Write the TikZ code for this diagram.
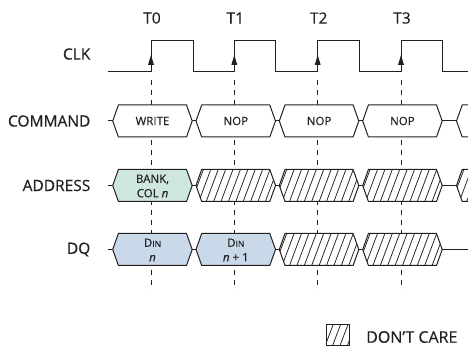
\documentclass[tikz,border=0pt]{standalone}
\usepackage{fontspec}
\setmainfont{Open Sans}[FakeBold=0.35]
\definecolor{ink}{HTML}{231F20}
\definecolor{addrfill}{HTML}{CDE6E0}
\definecolor{dqfill}{HTML}{C9D9E9}
\newcommand{\hexpath}[3]{(#1,#3) -- ({#1+5.7},{#3-16}) -- ({#2-5.7},{#3-16}) -- (#2,#3) -- ({#2-5.7},{#3+16}) -- ({#1+5.7},{#3+16}) -- cycle}
\newcommand{\hatchhex}[3]{%
  \fill[white] \hexpath{#1}{#2}{#3};
  \begin{scope}
    \clip \hexpath{#1}{#2}{#3};
    \foreach \h in {-12,-4.6,...,100} {\draw[hatchln] ({#1+\h},{#3+16}) -- ({#1+\h+12},{#3-16});}
  \end{scope}
  \draw[sig] \hexpath{#1}{#2}{#3};}
\begin{document}
\begin{tikzpicture}[x=1pt,y=-1pt,line join=miter]
\tikzset{
  sig/.style={draw=ink,line width=1pt},
  hatchln/.style={draw=ink,line width=0.75pt},
  guide/.style={draw=ink,line width=0.8pt,dash pattern=on 5pt off 5pt},
  lbl/.style={font=\fontsize{15.5}{18}\selectfont,text=ink,anchor=east,inner sep=0pt},
  tlab/.style={font=\fontsize{15.5}{18}\selectfont,text=ink,inner sep=0pt},
  ct/.style={font=\fontsize{11.5}{14.5}\selectfont,text=ink,align=center,inner sep=0pt},
  legtxt/.style={font=\fontsize{16}{18}\selectfont,text=ink,anchor=west,inner sep=0pt}
}
\useasboundingbox (0,0) rectangle (468,352);
% guide lines at rising edges
\foreach \e in {151,234.3,317.7,401} {\draw[guide] (\e,80) -- (\e,290);}
% clock
\draw[sig] (108,72) -- (151,72) -- (151,41) -- (193,41) -- (193,72)
  -- (234.3,72) -- (234.3,41) -- (275.7,41) -- (275.7,72)
  -- (317.7,72) -- (317.7,41) -- (359,41) -- (359,72)
  -- (401,72) -- (401,41) -- (442.3,41) -- (442.3,72) -- (468,72);
\foreach \e/\t in {151/T0,234.3/T1,317.7/T2,401/T3} {
  \fill[ink] (\e,55) -- ({\e-3},65) -- ({\e+3},65) -- cycle;
  \node[tlab] (lab\t) at ({\e+1},18) {\t};
}
% row labels
\node[lbl] (clk) at (90.5,54) {CLK};
\node[lbl] (cmd) at (90.5,121) {COMMAND};
\node[lbl] (addr) at (90.5,185.5) {ADDRESS};
\node[lbl] (dq) at (90.5,249.5) {DQ};
% connecting lines
\foreach \y in {121,185.5} {
  \draw[sig] (108,\y) -- (112.7,\y);
  \draw[sig] (192.2,\y) -- (196,\y);
  \draw[sig] (275.5,\y) -- (279.3,\y);
  \draw[sig] (358.8,\y) -- (362.7,\y);
  \draw[sig] (442.2,\y) -- (456.5,\y);
}
\draw[sig] (108,249.5) -- (112.7,249.5);
\draw[sig] (192.2,249.5) -- (196,249.5);
\draw[sig] (275.5,249.5) -- (279.3,249.5);
\draw[sig] (358.8,249.5) -- (362.7,249.5);
\draw[sig] (442.2,249.5) -- (468,249.5);
% COMMAND row
\draw[sig,fill=white] \hexpath{112.7}{192.2}{121};
\draw[sig,fill=white] \hexpath{196}{275.5}{121};
\draw[sig,fill=white] \hexpath{279.3}{358.8}{121};
\draw[sig,fill=white] \hexpath{362.7}{442.2}{121};
\draw[sig,fill=white] \hexpath{456.5}{560}{121};
\node[ct] (c1) at (152.5,121) {WRITE};
\node[ct] (c2) at (235.8,121) {NOP};
\node[ct] (c3) at (319.1,121) {NOP};
\node[ct] (c4) at (402.4,121) {NOP};
% ADDRESS row
\draw[sig,fill=addrfill] \hexpath{112.7}{192.2}{185.5};
\node[ct] (a1) at (152.5,186) {BANK,\\COL \textit{n}};
\hatchhex{196}{275.5}{185.5}
\hatchhex{279.3}{358.8}{185.5}
\hatchhex{362.7}{442.2}{185.5}
\hatchhex{456.5}{560}{185.5}
% DQ row
\draw[sig,fill=dqfill] \hexpath{112.7}{192.2}{249.5};
\draw[sig,fill=dqfill] \hexpath{196}{275.5}{249.5};
\node[ct] (d1) at (152.5,250) {D{\fontsize{8.5}{10}\selectfont IN}\\\textit{n}};
\node[ct] (d2) at (235.8,250) {D{\fontsize{8.5}{10}\selectfont IN}\\\textit{n} + 1};
\hatchhex{279.3}{358.8}{249.5}
\hatchhex{362.7}{442.2}{249.5}
% legend
\fill[white] (326,324) rectangle (349,345);
\begin{scope}
  \clip (326,324) rectangle (349,345);
  \foreach \h in {-8,-0.6,...,30} {\draw[hatchln] ({326+\h},345) -- ({326+\h+8},324);}
\end{scope}
\draw[sig] (326,324) rectangle (349,345);
\node[legtxt] (leg) at (366,337) {DON’T CARE};
\end{tikzpicture}
\end{document}
